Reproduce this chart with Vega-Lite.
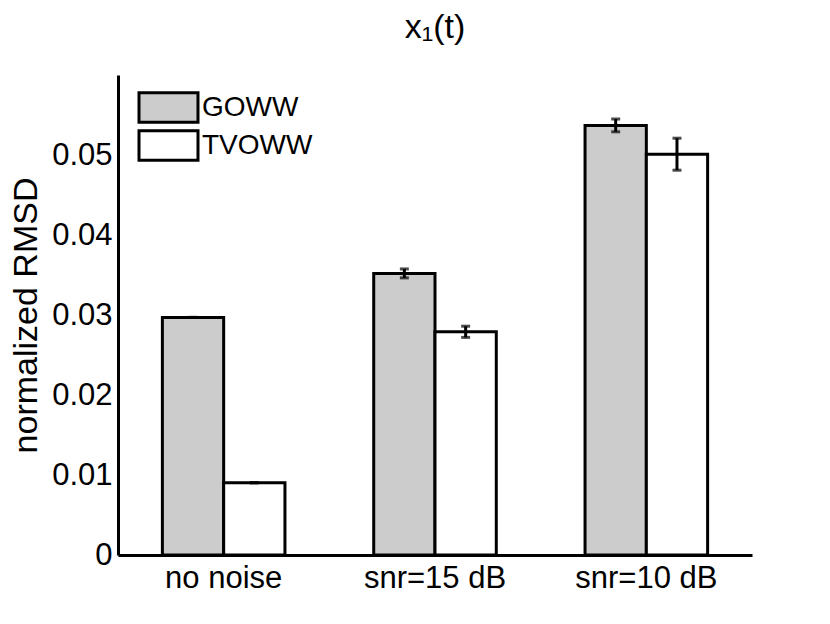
{
  "$schema": "https://vega.github.io/schema/vega-lite/v6.json",
  "autosize": "none",
  "padding": {"left": 118, "top": 75, "right": 78, "bottom": 69},
  "width": 634,
  "height": 480,
  "background": "white",
  "title": {
    "text": "x₁(t)",
    "font": "Liberation Sans",
    "fontSize": 34,
    "fontWeight": "normal",
    "color": "black",
    "offset": 30
  },
  "data": {
    "values": [
      {"cond": "no noise", "method": "GOWW", "rmsd": 0.0297, "err": 0},
      {"cond": "no noise", "method": "TVOWW", "rmsd": 0.00903, "err": 0},
      {"cond": "snr=15 dB", "method": "GOWW", "rmsd": 0.0352, "err": 0.00056},
      {"cond": "snr=15 dB", "method": "TVOWW", "rmsd": 0.0279, "err": 0.0007},
      {"cond": "snr=10 dB", "method": "GOWW", "rmsd": 0.0537, "err": 0.0008},
      {"cond": "snr=10 dB", "method": "TVOWW", "rmsd": 0.0501, "err": 0.002}
    ]
  },
  "transform": [
    {"calculate": "datum.rmsd - datum.err", "as": "lo"},
    {"calculate": "datum.rmsd + datum.err", "as": "hi"}
  ],
  "encoding": {
    "x": {
      "field": "cond",
      "type": "nominal",
      "sort": ["no noise", "snr=15 dB", "snr=10 dB"],
      "scale": {"paddingInner": 0.42, "paddingOuter": 0.21},
      "axis": {
        "title": null,
        "labelAngle": 0,
        "labelFont": "Liberation Sans",
        "labelFontSize": 31,
        "labelColor": "black",
        "labelPadding": 8,
        "ticks": false,
        "domainColor": "black",
        "domainWidth": 3
      }
    },
    "xOffset": {"field": "method", "type": "nominal", "sort": ["GOWW", "TVOWW"], "scale": {"paddingInner": 0}}
  },
  "layer": [
    {
      "mark": {"type": "bar", "stroke": "black", "strokeWidth": 3},
      "encoding": {
        "y": {
          "field": "rmsd",
          "type": "quantitative",
          "scale": {"domain": [0, 0.06], "nice": false},
          "axis": {
            "title": "normalized RMSD",
            "titleFont": "Liberation Sans",
            "titleFontSize": 34,
            "titleFontWeight": "normal",
            "titleColor": "black",
            "titlePadding": 8,
            "values": [0, 0.01, 0.02, 0.03, 0.04, 0.05],
            "format": "~g",
            "labelFont": "Liberation Sans",
            "labelFontSize": 31,
            "labelColor": "black",
            "labelPadding": 6,
            "ticks": false,
            "grid": false,
            "domainColor": "black",
            "domainWidth": 3
          }
        },
        "fill": {
          "field": "method",
          "type": "nominal",
          "scale": {"domain": ["GOWW", "TVOWW"], "range": ["#cccccc", "#ffffff"]},
          "legend": {
            "title": null,
            "orient": "none",
            "legendX": 34,
            "legendY": 16,
            "symbolType": "M-2,-1H2V1H-2Z",
            "symbolSize": 870,
            "symbolStrokeColor": "black",
            "symbolStrokeWidth": 3,
            "symbolOpacity": 1,
            "labelFont": "Liberation Sans",
            "labelFontSize": 28,
            "labelColor": "black",
            "labelOffset": 17,
            "rowPadding": -6
          }
        }
      }
    },
    {
      "mark": {"type": "rule", "color": "black", "strokeWidth": 3},
      "encoding": {
        "y": {"field": "lo", "type": "quantitative"},
        "y2": {"field": "hi"}
      }
    },
    {
      "mark": {"type": "tick", "color": "black", "thickness": 3, "size": 9, "orient": "horizontal"},
      "encoding": {"y": {"field": "lo", "type": "quantitative"}}
    },
    {
      "mark": {"type": "tick", "color": "black", "thickness": 3, "size": 9, "orient": "horizontal"},
      "encoding": {"y": {"field": "hi", "type": "quantitative"}}
    }
  ],
  "config": {"view": {"stroke": null}}
}
